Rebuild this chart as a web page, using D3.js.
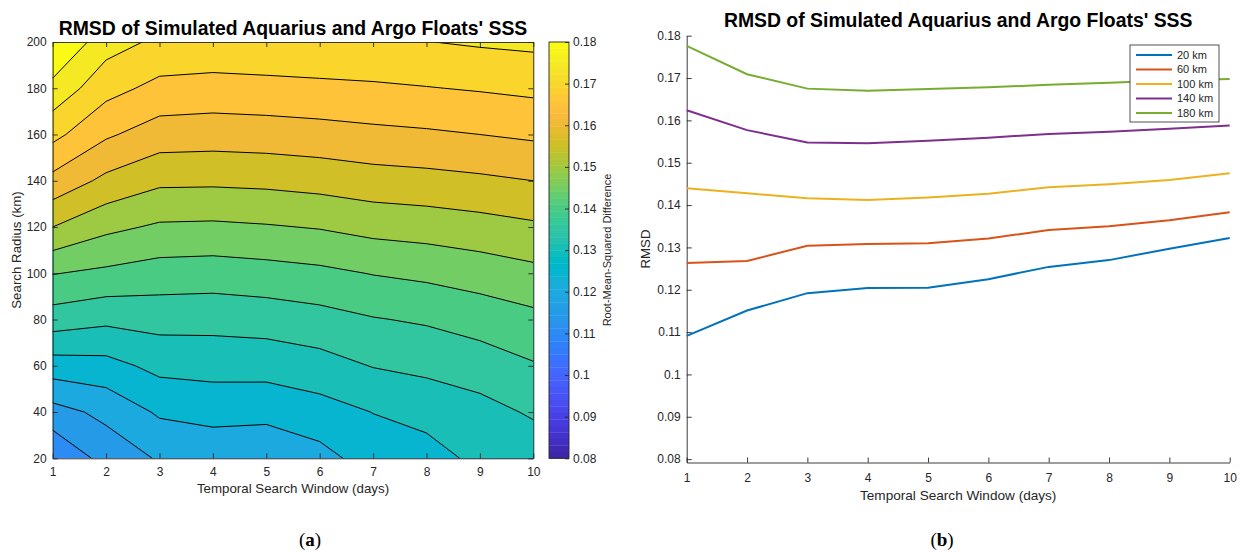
<!DOCTYPE html>
<html>
<head>
<meta charset="utf-8">
<script src="https://cdn.jsdelivr.net/npm/d3@7"></script>
<style>
  body { margin: 0; background: #fff; }
  svg text { font-family: "Liberation Sans", Arial, Helvetica, sans-serif; fill: #262626; }
  .axis path, .axis line { stroke: #262626; stroke-width: 0.9; }
  .axis text { font-size: 12px; }
  .title { font-size: 19.4px; font-weight: bold; fill: #000; }
  .label { font-size: 13.3px; }
  .caption { font-family: "Liberation Serif", "DejaVu Serif", serif; font-size: 19px; fill: #000; }
</style>
</head>
<body>
<svg id="chart" width="1240" height="552"></svg>
<script>

// temporal search window (days) and search radius (km)
const days = [1, 2, 3, 4, 5, 6, 7, 8, 9, 10];
const radii = [20, 40, 60, 80, 100, 120, 140, 160, 180, 200];

// panel (a): RMSD grid, one row per search radius (20 km first), one column per day
const rmsdGrid = [
  [0.1102, 0.1168, 0.1205, 0.1215, 0.1209, 0.1233, 0.1272, 0.1277, 0.1314, 0.1320],
  [0.1181, 0.1213, 0.1257, 0.1267, 0.1265, 0.1280, 0.1301, 0.1319, 0.1333, 0.1356],
  [0.1277, 0.1283, 0.1314, 0.1318, 0.1319, 0.1331, 0.1352, 0.1361, 0.1375, 0.1396],
  [0.1376, 0.1361, 0.1368, 0.1367, 0.1372, 0.1382, 0.1397, 0.1406, 0.1421, 0.1437],
  [0.1452, 0.1440, 0.1428, 0.1425, 0.1431, 0.1439, 0.1452, 0.1461, 0.1473, 0.1487],
  [0.1550, 0.1512, 0.1493, 0.1491, 0.1496, 0.1503, 0.1516, 0.1522, 0.1531, 0.1542],
  [0.1635, 0.1588, 0.1560, 0.1559, 0.1562, 0.1569, 0.1579, 0.1584, 0.1591, 0.1600],
  [0.1714, 0.1657, 0.1626, 0.1623, 0.1626, 0.1631, 0.1638, 0.1643, 0.1650, 0.1658],
  [0.1785, 0.1717, 0.1686, 0.1681, 0.1684, 0.1688, 0.1692, 0.1698, 0.1704, 0.1711],
  [0.1854, 0.1771, 0.1740, 0.1737, 0.1741, 0.1744, 0.1747, 0.1749, 0.1756, 0.1761]
];
const contourLevels = [0.11, 0.115, 0.12, 0.125, 0.13, 0.135, 0.14, 0.145, 0.15, 0.155, 0.16, 0.165, 0.17, 0.175, 0.18];
const colorbarTicks = [0.08, 0.09, 0.1, 0.11, 0.12, 0.13, 0.14, 0.15, 0.16, 0.17, 0.18];

// panel (b): RMSD against window for five radii
const lineLabels = ["20 km", "60 km", "100 km", "140 km", "180 km"];
const rmsd20km  = [0.1091, 0.1151, 0.1192, 0.1204, 0.1205, 0.1225, 0.1254, 0.1270, 0.1297, 0.1322];
const rmsd60km  = [0.1263, 0.1268, 0.1304, 0.1308, 0.1310, 0.1321, 0.1341, 0.1350, 0.1364, 0.1383];
const rmsd100km = [0.1440, 0.1428, 0.1416, 0.1412, 0.1418, 0.1427, 0.1442, 0.1449, 0.1459, 0.1475];
const rmsd140km = [0.1624, 0.1577, 0.1548, 0.1546, 0.1552, 0.1559, 0.1568, 0.1573, 0.1580, 0.1588];
const rmsd180km = [0.1776, 0.1709, 0.1675, 0.1670, 0.1674, 0.1678, 0.1684, 0.1689, 0.1694, 0.1698];
const rmsdTicks = [0.08, 0.09, 0.1, 0.11, 0.12, 0.13, 0.14, 0.15, 0.16, 0.17, 0.18];

const lineColors = ["#0072bd", "#d95319", "#edb120", "#7e2f8e", "#77ac30"];

// matlab parula, 64 steps
const parula = ["#3e26a8","#402ab4","#422ec0","#4332cb","#4537d5","#463cde","#4741e5","#4747eb",
  "#484df0","#4852f4","#4758f8","#465efb","#4563fd","#4269fe","#3e6fff","#3875fe",
  "#327cfc","#2f81fa","#2e87f7","#2d8cf3","#2b91ef","#2797eb","#259be8","#23a0e5",
  "#20a5e3","#1ca9df","#18addb","#12b1d6","#08b5d0","#01b8ca","#02bac3","#0bbdbd",
  "#19bfb6","#24c1ae","#2cc4a7","#31c69f","#37c897","#3fca8e","#4acb84","#57cc7a",
  "#64cd6f","#72cd64","#81cc59","#8fcb4e","#9dc943","#abc739","#b9c431","#c5c22a",
  "#d1bf27","#dcbd29","#e6bb2d","#f0ba36","#f8ba3d","#febe3c","#fec338","#fec934",
  "#fccf30","#fad62d","#f7dc2a","#f5e327","#f5e924","#f6ef20","#f7f51b","#f9fb15"];

const svg = d3.select("#chart");
const fmt = d => String(+d.toFixed(3));

//---------------- panel (a): filled contours
const xA = d3.scaleLinear().domain([1, 10]).range([52.7, 533.3]);
const yA = d3.scaleLinear().domain([20, 200]).range([458.3, 42]);
const color = d3.scaleQuantize().domain([0.08, 0.18]).range(parula);

svg.append("clipPath").attr("id", "clipA").append("rect")
  .attr("x", xA(1)).attr("y", yA(200))
  .attr("width", xA(10) - xA(1)).attr("height", yA(20) - yA(200));

// d3.contours puts value i at i+0.5, so shift back onto the day / radius grid
const dDay = days[1] - days[0], dRad = radii[1] - radii[0];
const gridPath = d3.geoPath(d3.geoTransform({
  point: function(px, py) {
    this.stream.point(xA(days[0] + (px - 0.5) * dDay), yA(radii[0] + (py - 0.5) * dRad));
  }
}));

const bands = d3.contours()
  .size([days.length, radii.length])
  .thresholds(contourLevels)(rmsdGrid.flat());

const gA = svg.append("g").attr("clip-path", "url(#clipA)");
gA.selectAll("path.band").data(bands).join("path")
  .attr("class", "band")
  .attr("d", gridPath)
  .attr("fill-rule", "evenodd")
  .attr("fill", d => color(d.value));
gA.selectAll("path.iso").data(bands).join("path")
  .attr("class", "iso")
  .attr("d", gridPath)
  .attr("fill", "none")
  .attr("stroke", "#000")
  .attr("stroke-width", 1);

// box with inward ticks
svg.append("g").attr("class", "axis")
  .attr("transform", `translate(0,${yA(20)})`)
  .call(d3.axisBottom(xA).tickValues(days).tickSizeInner(-5).tickSizeOuter(0).tickPadding(9));
svg.append("g").attr("class", "axis")
  .attr("transform", `translate(0,${yA(200)})`)
  .call(d3.axisTop(xA).tickValues(days).tickSizeInner(-5).tickSizeOuter(0).tickFormat(""));
svg.append("g").attr("class", "axis")
  .attr("transform", `translate(${xA(1)},0)`)
  .call(d3.axisLeft(yA).tickValues(radii).tickSizeInner(-5).tickSizeOuter(0).tickPadding(6));
svg.append("g").attr("class", "axis")
  .attr("transform", `translate(${xA(10)},0)`)
  .call(d3.axisRight(yA).tickValues(radii).tickSizeInner(-5).tickSizeOuter(0).tickFormat(""));

// colorbar
const cbY = d3.scaleLinear().domain([0.08, 0.18]).range([yA(20), yA(200)]);
const cbX = 549, cbW = 20;
svg.append("g").selectAll("rect").data(parula).join("rect")
  .attr("x", cbX).attr("width", cbW)
  .attr("y", c => cbY(color.invertExtent(c)[1]))
  .attr("height", c => cbY(color.invertExtent(c)[0]) - cbY(color.invertExtent(c)[1]) + 0.3)
  .attr("fill", c => c);
svg.append("rect")
  .attr("x", cbX).attr("y", cbY(0.18)).attr("width", cbW).attr("height", cbY(0.08) - cbY(0.18))
  .attr("fill", "none").attr("stroke", "#262626").attr("stroke-width", 0.9);
svg.append("g").attr("class", "axis")
  .attr("transform", `translate(${cbX + cbW},0)`)
  .call(d3.axisRight(cbY).tickValues(colorbarTicks).tickSizeInner(-4).tickSizeOuter(0).tickPadding(4).tickFormat(fmt))
  .call(g => g.select(".domain").remove());
svg.append("text").attr("class", "label")
  .attr("transform", "translate(611,250) rotate(-90)")
  .attr("text-anchor", "middle").style("font-size", "11px")
  .text("Root-Mean-Squared Difference");

svg.append("text").attr("class", "title")
  .attr("x", (xA(1) + xA(10)) / 2).attr("y", 34.5).attr("text-anchor", "middle")
  .text("RMSD of Simulated Aquarius and Argo Floats' SSS");
svg.append("text").attr("class", "label")
  .attr("x", (xA(1) + xA(10)) / 2).attr("y", 493).attr("text-anchor", "middle")
  .text("Temporal Search Window (days)");
svg.append("text").attr("class", "label")
  .attr("transform", "translate(21,250) rotate(-90)").attr("text-anchor", "middle")
  .text("Search Radius (km)");

//---------------- panel (b): lines
const xB = d3.scaleLinear().domain([1, 10]).range([686.7, 1229.7]);
const yB = d3.scaleLinear().domain([0.0792, 0.18]).range([462.5, 35.7]);

svg.append("g").attr("class", "axis")
  .attr("transform", `translate(0,${yB(0.0792)})`)
  .call(d3.axisBottom(xB).tickValues(days).tickSizeInner(-5).tickSizeOuter(0).tickPadding(11));
svg.append("g").attr("class", "axis")
  .attr("transform", `translate(${xB(1)},0)`)
  .call(d3.axisLeft(yB).tickValues(rmsdTicks).tickSizeInner(-5).tickSizeOuter(0).tickPadding(6).tickFormat(fmt));

const series = [rmsd20km, rmsd60km, rmsd100km, rmsd140km, rmsd180km];
const line = d3.line().x((v, i) => xB(days[i])).y(v => yB(v));

svg.append("g").selectAll("path").data(series).join("path")
  .attr("d", line)
  .attr("fill", "none")
  .attr("stroke", (d, i) => lineColors[i])
  .attr("stroke-width", 2);

// legend
const lg = svg.append("g").attr("transform", "translate(1130,45)");
lg.append("rect").attr("width", 89).attr("height", 77)
  .attr("fill", "#fff").attr("stroke", "#262626").attr("stroke-width", 0.8);
const item = lg.selectAll("g").data(lineLabels).join("g")
  .attr("transform", (d, i) => `translate(0,${10 + i * 14.5})`);
item.append("line").attr("x1", 6).attr("x2", 42)
  .attr("stroke", (d, i) => lineColors[i]).attr("stroke-width", 2);
item.append("text").attr("x", 47).attr("dy", "0.35em")
  .style("font-size", "11px").text(d => d);

svg.append("text").attr("class", "title")
  .attr("x", (xB(1) + xB(10)) / 2).attr("y", 27).attr("text-anchor", "middle")
  .text("RMSD of Simulated Aquarius and Argo Floats' SSS");
svg.append("text").attr("class", "label").style("font-size", "13.6px")
  .attr("x", (xB(1) + xB(10)) / 2).attr("y", 500).attr("text-anchor", "middle")
  .text("Temporal Search Window (days)");
svg.append("text").attr("class", "label")
  .attr("transform", "translate(650,249) rotate(-90)").attr("text-anchor", "middle")
  .text("RMSD");

// sub-figure captions
[["a", 310], ["b", 942]].forEach(([k, x]) => {
  const t = svg.append("text").attr("class", "caption")
    .attr("x", x).attr("y", 546).attr("text-anchor", "middle");
  t.append("tspan").text("(");
  t.append("tspan").style("font-weight", "bold").text(k);
  t.append("tspan").text(")");
});

</script>
</body>
</html>
